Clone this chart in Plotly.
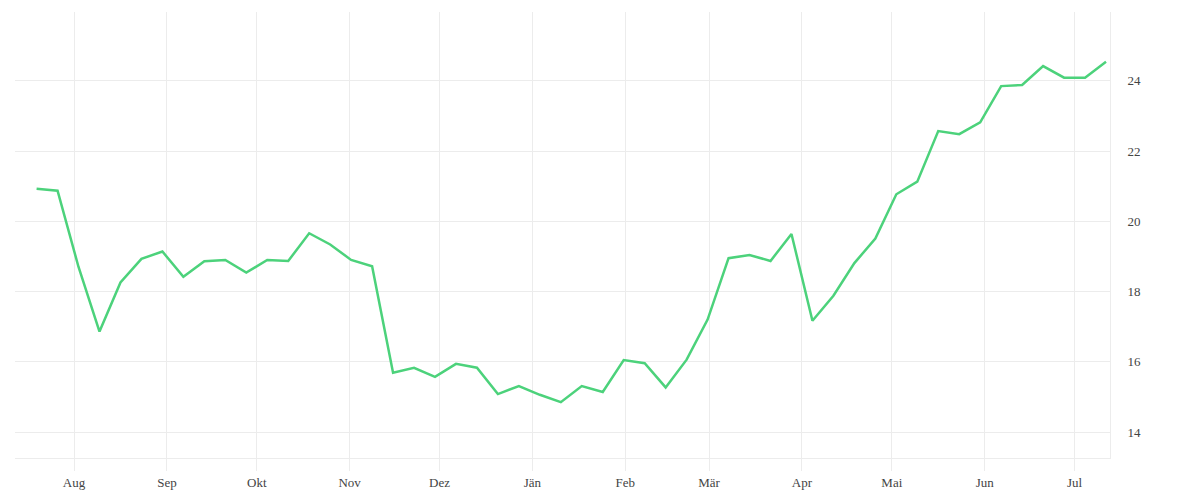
import pandas as pd
import plotly.graph_objects as go

# Weekly observations (start date, then every 7 days)
start_date = "2022-07-19 12:00"
values = [
    20.93, 20.87, 18.70, 16.86, 18.26, 18.93, 19.14, 18.42, 18.86, 18.90,
    18.54, 18.90, 18.87, 19.66, 19.34, 18.90, 18.72, 15.69, 15.83, 15.57,
    15.94, 15.83, 15.08, 15.31, 15.06, 14.85, 15.31, 15.14, 16.05, 15.96,
    15.27, 16.06, 17.20, 18.95, 19.04, 18.87, 19.64, 17.17, 17.88, 18.81,
    19.51, 20.77, 21.13, 22.57, 22.48, 22.82, 23.85, 23.88, 24.42, 24.09,
    24.09, 24.54,
]
dates = pd.date_range(start=start_date, periods=len(values), freq="7D")

tick_dates = ["2022-08-01", "2022-09-01", "2022-10-01", "2022-11-01", "2022-12-01",
              "2023-01-01", "2023-02-01", "2023-03-01", "2023-04-01", "2023-05-01",
              "2023-06-01", "2023-07-01"]
tick_labels = ["Aug", "Sep", "Okt", "Nov", "Dez", "Jän", "Feb", "Mär", "Apr", "Mai", "Jun", "Jul"]
y_ticks = [14, 16, 18, 20, 22, 24]

fig = go.Figure()
fig.add_trace(go.Scatter(
    x=dates, y=values, mode="lines",
    line=dict(color="#4cd27b", width=2.5),
    hoverinfo="x+y", showlegend=False,
))

grid = "#ececec"
font = dict(family="Liberation Serif, DejaVu Serif, serif", size=13, color="#444444")

fig.update_layout(
    width=1200, height=500,
    margin=dict(l=7, r=98, t=4, b=50),
    paper_bgcolor="white", plot_bgcolor="white",
    font=font,
    xaxis=dict(
        type="date",
        range=["2022-07-12 07:00", "2023-07-12 20:00"],
        tickvals=tick_dates, ticktext=tick_labels,
        showgrid=True, gridcolor=grid, gridwidth=1,
        ticks="outside", ticklen=12, tickcolor=grid, tickwidth=1,
        showline=True, linecolor=grid, linewidth=1,
        zeroline=False, tickfont=font,
    ),
    yaxis=dict(
        side="right",
        range=[13.26, 25.96],
        tickvals=y_ticks,
        showgrid=True, gridcolor=grid, gridwidth=1,
        ticks="outside", ticklen=14, tickcolor="rgba(0,0,0,0)",
        showline=True, linecolor=grid, linewidth=1,
        zeroline=False, tickfont=font,
    ),
)

fig.write_html("out.html")
